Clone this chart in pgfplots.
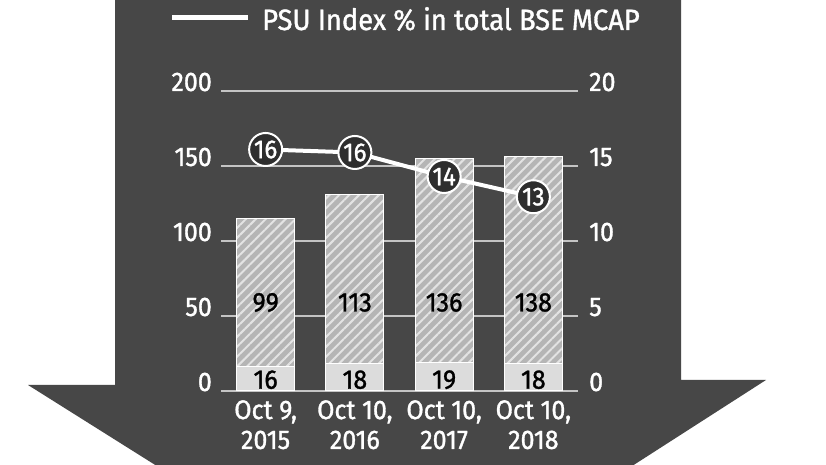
\documentclass[border=0pt]{standalone}
\usepackage{pgfplots}
\pgfplotsset{compat=1.18}
\usepackage{fontspec}
\setmainfont{Fira Sans}[FakeStretch=0.93, FakeBold=1.2]
\usetikzlibrary{patterns.meta}
\definecolor{bgdark}{HTML}{474747}
\definecolor{barlow}{HTML}{DCDCDC}
\definecolor{barhatch}{HTML}{B5B5B5}
\definecolor{hatchline}{HTML}{E3E3E3}
\definecolor{gridc}{HTML}{C4C4C4}
\definecolor{markc}{HTML}{2E2E2E}
\newcommand{\bigf}{\fontsize{29.5}{31}\selectfont}
\newcommand{\tickf}{\fontsize{27}{30}\selectfont}
\begin{document}
\begin{tikzpicture}[x=1bp,y=1bp]
\fill[white] (0,0) rectangle (826,465);
\path[use as bounding box] (0,0) rectangle (826,465);
\begin{scope}
\clip (0,0) rectangle (826,465);
\fill[bgdark] (115,470) -- (681,470) -- (681,85) -- (766,85) -- (397,-152) -- (28,80) -- (115,80) -- cycle;
\end{scope}
% legend
\draw[white, line width=5bp] (172,447) -- (248,447);
\node[anchor=west, text=white, inner sep=0pt, font=\bigf] at (262,446) {PSU Index \% in total BSE MCAP};
\begin{axis}[
  at={(221bp,74bp)}, anchor=south west,
  scale only axis, width=357bp, height=300bp,
  xmin=-0.5, xmax=3.5, ymin=0, ymax=200,
  ybar stacked, bar width=58bp,
  axis line style={draw=none},
  major tick style={draw=none},
  ymajorgrids, grid style={gridc, line width=1.5bp},
  ytick={0,50,100,150,200},
  xtick={0,1,2,3},
  xticklabels={{Oct 9,\\2015},{Oct 10,\\2016},{Oct 10,\\2017},{Oct 10,\\2018}},
  xticklabel style={align=center, text=white, font=\tickf, anchor=north, inner sep=0pt, yshift=-9bp},
  yticklabel style={anchor=base east, inner sep=0pt, xshift=-9bp, text=white, font=\tickf},
  /pgf/number format/assume math mode=true,
]
\addplot[fill=barlow, draw=white, line width=1bp] coordinates {(0,16) (1,18) (2,19) (3,18)};
\addplot[fill=barhatch, draw=white, line width=1bp,
  postaction={pattern={Lines[angle=45, distance=7bp, line width=2bp]}, pattern color=hatchline}]
  coordinates {(0,99) (1,113) (2,136) (3,138)};
\end{axis}
\begin{axis}[
  at={(221bp,74bp)}, anchor=south west,
  scale only axis, width=357bp, height=300bp,
  xmin=-0.5, xmax=3.5, ymin=0, ymax=20,
  axis x line=none, axis y line*=right,
  axis line style={draw=none},
  major tick style={draw=none},
  ytick={0,5,10,15,20},
  yticklabel style={anchor=base west, inner sep=0pt, xshift=11bp, text=white, font=\tickf},
  /pgf/number format/assume math mode=true,
]
\node[font=\tickf, text=black] at (axis cs:0,5.9) {99};
\node[font=\tickf, text=black] at (axis cs:1,5.9) {113};
\node[font=\tickf, text=black] at (axis cs:2,5.9) {136};
\node[font=\tickf, text=black] at (axis cs:3,5.9) {138};
\node[font=\tickf, text=black] at (axis cs:0,0.75) {16};
\node[font=\tickf, text=black] at (axis cs:1,0.75) {18};
\node[font=\tickf, text=black] at (axis cs:2,0.75) {19};
\node[font=\tickf, text=black] at (axis cs:3,0.75) {18};
\addplot[white, line width=4bp, mark=*, mark size=16.5bp,
  mark options={fill=markc, draw=white, line width=2bp},
  point meta=explicit symbolic, nodes near coords,
  every node near coord/.append style={anchor=center, text=white, font=\fontsize{26}{26}\selectfont}]
  coordinates {(0,16.1)[16] (1,15.9)[16] (2,14.3)[14] (3,12.95)[13]};
\end{axis}
\end{tikzpicture}
\end{document}
